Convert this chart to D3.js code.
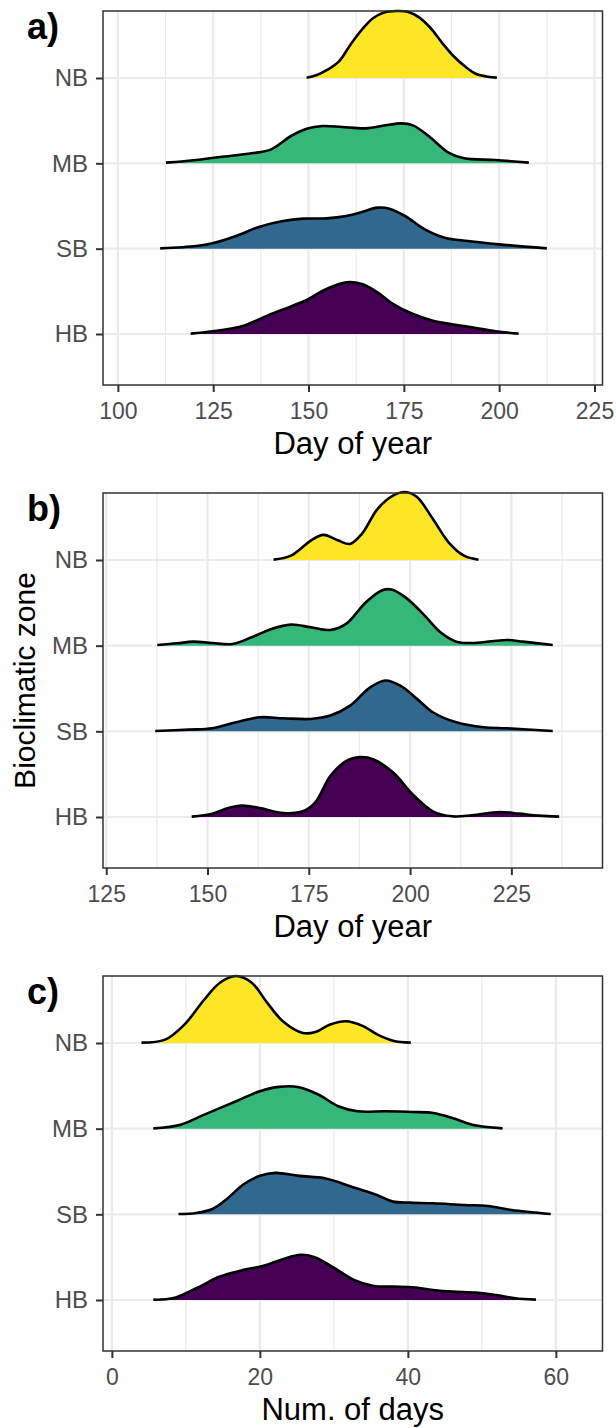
<!DOCTYPE html>
<html><head><meta charset="utf-8">
<script src="https://cdn.jsdelivr.net/npm/d3@7"></script>
<style>body{margin:0;background:#fff}svg text{font-family:"Liberation Sans",Arial,sans-serif}</style>
</head><body><svg id="chart" width="616" height="1428"></svg>
<script>
// Categories (bottom to top) and fill colours
const zones = ["HB", "SB", "MB", "NB"];
const zoneColors = ["#440154", "#31688E", "#35B779", "#FDE725"];

// Relative density: value 256 = one row spacing
// ---- Panel a (Day of year) ----
const aTicks = [100, 125, 150, 175, 200, 225];
const aHB_x = [119.1,124.8,133,139.2,145.4,149.5,154.7,159.9,164,168.1,172.2,177.4,182.6,192.9,199.1,205.1];
const aHB_d = [1,8,25,55,83,102,135,155,150,125,90,60,40,20,8,1];
const aSB_x = [111.1,120.6,124.8,131,137.2,143.3,148.5,154.7,159.9,164,168.1,171.2,175.3,180.5,185.7,191.8,200,212.5];
const aSB_d = [1,8,16,38,66,83,90,91,98,110,123,120,98,58,33,23,13,1];
const aMB_x = [112.6,120.6,126.8,135.1,140.2,145.4,149.5,153.7,158.8,165,170.2,174.3,177.4,181.5,186.7,190.8,199,207.8];
const aMB_d = [2,10,19,30,42,82,104,112,109,105,114,120,114,82,32,15,10,2];
const aNB_x = [149.5,152,155,158,161,164,167,170,173,176,179,182,185,188,191,194,197,199.4];
const aNB_d = [1,8,25,50,100,145,180,197,201,199,182,150,106,66,35,12,4,1];

// ---- Panel b (Day of year) ----
const bTicks = [125, 150, 175, 200, 225];
const bHB_x = [146.1,151.2,155.1,158.5,162.9,168.7,173.5,176.5,180.3,184.2,187.6,191,195.9,200.7,205.6,210.4,215.3,222.1,226.9,231.8,236.8];
const bHB_d = [1,10,27,34,27,12,17,42,122,167,179,172,132,67,17,2,5,15,10,4,1];
const bSB_x = [137.1,145.4,151.2,157,162.9,168.7,175.5,180.3,185.2,190,193.9,197.8,201.7,205.6,211.4,218.2,224,235.2];
const bSB_d = [1,5,9,27,42,39,37,47,77,130,152,135,97,57,27,12,9,1];
const bMB_x = [137.6,142.5,146.4,151.2,156.1,160.9,165.8,170.6,175.5,180.3,184.2,189.1,193,195.4,198.8,203.6,207.5,211.4,215.3,220.1,224,227.9,235.2];
const bMB_d = [2,7,12,8,5,25,50,63,55,47,65,130,165,168,145,90,40,12,8,13,17,12,2];
const bNB_x = [166.3,170.6,175.5,178.6,182.3,185.2,188.1,192,195.9,198.8,201.7,205.6,209.5,213.3,216.9];
const bNB_d = [1,13,58,75,58,48,78,153,193,203,188,123,53,13,1];

// ---- Panel c (Num. of days) ----
const cTicks = [0, 20, 40, 60];
const cHB_x = [5.6,8.2,11.4,14.6,17.8,20.5,23.1,25.5,27.4,30.1,32.7,35.4,38,40.7,43.4,46,49.2,51.9,54.5,57.3];
const cHB_d = [1,5,35,70,90,102,122,135,128,95,60,42,40,38,30,25,22,15,5,1];
const cSB_x = [9,11.4,13.6,15.5,17.8,20,22.1,25.3,28.9,32.7,35.9,38,40.2,43.4,47.6,50.8,54,59.3];
const cSB_d = [1,4,16,45,90,115,124,115,107,80,57,38,35,33,28,25,13,1];
const cMB_x = [5.6,9.3,12.5,16.8,20,22.6,25.3,27.9,30.6,33.2,37,40.7,43.4,46,48.7,52.8];
const cMB_d = [1,12,42,82,112,125,124,102,67,52,52,50,47,32,12,1];
const cNB_x = [4,7.2,9.8,12.5,14.6,16.8,18.9,21,23.1,25.8,27.4,29.5,31.6,33.8,35.9,38,40.4];
const cNB_d = [1,10,55,130,180,200,180,120,65,30,32,55,65,52,25,7,1];

const panelLabels = ["a)", "b)", "c)"];
const xTitles = ["Day of year", "Day of year", "Num. of days"];
const yTitle = "Bioclimatic zone";

const panels = [
  {label: panelLabels[0], title: xTitles[0], ticks: aTicks, domain: [96.1, 227.1], top: 11, bottom: 385,
   series: [[aHB_x,aHB_d],[aSB_x,aSB_d],[aMB_x,aMB_d],[aNB_x,aNB_d]]},
  {label: panelLabels[1], title: xTitles[1], ticks: bTicks, domain: [124.2, 247.5], top: 493, bottom: 868, yTitle: true,
   series: [[bHB_x,bHB_d],[bSB_x,bSB_d],[bMB_x,bMB_d],[bNB_x,bNB_d]]},
  {label: panelLabels[2], title: xTitles[2], ticks: cTicks, domain: [-1.2, 66.3], top: 976, bottom: 1351,
   series: [[cHB_x,cHB_d],[cSB_x,cSB_d],[cMB_x,cMB_d],[cNB_x,cNB_d]]}
];

const svg = d3.select("#chart");
const left = 103, right = 602.5;
const font = "Liberation Sans, Arial, sans-serif";

panels.forEach(p => {
  const g = svg.append("g");
  const x = d3.scaleLinear().domain(p.domain).range([left, right]);
  const y = d3.scalePoint().domain(zones).range([p.bottom - 51, p.top + 67]);
  const spacing = y.step();
  const h = d3.scaleLinear().domain([0, 256]).range([0, spacing]);

  // grid
  const step = p.ticks[1] - p.ticks[0];
  const minor = d3.range(p.ticks[0] - step / 2, p.domain[1], step).filter(v => v > p.domain[0] && v < p.domain[1]);
  g.selectAll(".minor").data(minor).join("line")
    .attr("x1", d => x(d)).attr("x2", d => x(d)).attr("y1", p.top).attr("y2", p.bottom)
    .attr("stroke", "#EBEBEB").attr("stroke-width", 1.2);
  g.selectAll(".major").data(p.ticks).join("line")
    .attr("x1", d => x(d)).attr("x2", d => x(d)).attr("y1", p.top).attr("y2", p.bottom)
    .attr("stroke", "#EBEBEB").attr("stroke-width", 2.2);
  g.selectAll(".hmajor").data(zones).join("line")
    .attr("x1", left).attr("x2", right).attr("y1", d => y(d)).attr("y2", d => y(d))
    .attr("stroke", "#EBEBEB").attr("stroke-width", 2.2);

  // ridges, top row first so lower rows overlap
  const curve = d3.curveCatmullRom.alpha(0.5);
  [3, 2, 1, 0].forEach(i => {
    const [xs, ds] = p.series[i];
    const pts = xs.map((v, k) => [v, ds[k]]);
    const base = y(zones[i]);
    const area = d3.area().x(d => x(d[0])).y0(base).y1(d => Math.min(base, base - h(d[1]))).curve(curve);
    const line = d3.line().x(d => x(d[0])).y(d => base - h(d[1])).curve(curve);
    g.append("path").attr("d", area(pts)).attr("fill", zoneColors[i]);
    g.append("path").attr("d", line(pts)).attr("fill", "none").attr("stroke", "#000")
      .attr("stroke-width", 2.6).attr("stroke-linejoin", "round").attr("stroke-linecap", "butt");
  });

  // border
  g.append("rect").attr("x", left).attr("y", p.top).attr("width", right - left).attr("height", p.bottom - p.top)
    .attr("fill", "none").attr("stroke", "#333333").attr("stroke-width", 1.5);

  // x axis
  const xAxis = d3.axisBottom(x).tickValues(p.ticks).tickSize(7).tickPadding(6).tickFormat(d3.format("d"));
  const xa = g.append("g").attr("transform", `translate(0,${p.bottom})`).call(xAxis);
  xa.select(".domain").remove();
  xa.selectAll(".tick line").attr("stroke", "#333333").attr("stroke-width", 2);
  xa.selectAll(".tick text").attr("fill", "#4D4D4D").attr("font-size", 23)
    .attr("font-family", font).attr("dy", "0.9em");

  // y axis
  const yAxis = d3.axisLeft(y).tickSize(7).tickPadding(8);
  const ya = g.append("g").attr("transform", `translate(${left},0)`).call(yAxis);
  ya.select(".domain").remove();
  ya.selectAll(".tick line").attr("stroke", "#333333").attr("stroke-width", 2);
  ya.selectAll(".tick text").attr("fill", "#4D4D4D").attr("font-size", 24).attr("font-family", font);

  // titles
  g.append("text").attr("x", (left + right) / 2).attr("y", p.bottom + 69).attr("text-anchor", "middle")
    .attr("font-size", 31).attr("fill", "#000").text(p.title);
  g.append("text").attr("x", 27).attr("y", p.top + 28).attr("font-size", 36).attr("font-weight", "bold")
    .attr("fill", "#000").text(p.label);
  if (p.yTitle) {
    g.append("text").attr("transform", `translate(35,${(p.top + p.bottom) / 2}) rotate(-90)`)
      .attr("text-anchor", "middle").attr("font-size", 30).attr("fill", "#000").text(yTitle);
  }
});
</script></body></html>
